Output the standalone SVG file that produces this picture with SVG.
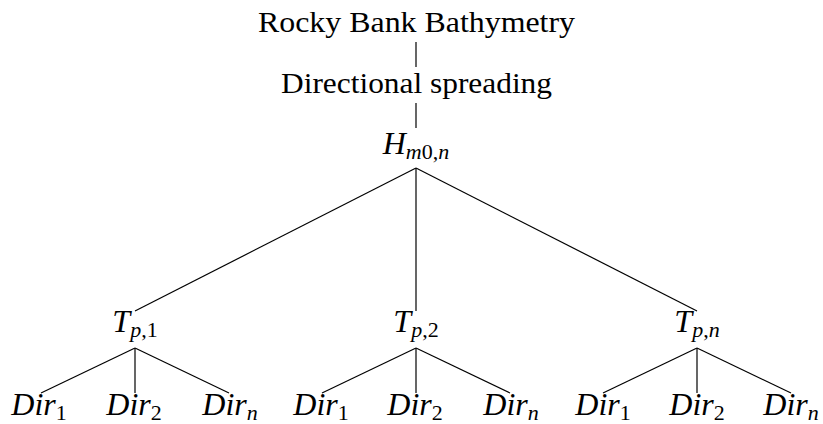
<svg xmlns="http://www.w3.org/2000/svg" width="823" height="424" viewBox="0 0 823 424">
<style>
text{font-family:"Liberation Serif","DejaVu Serif",serif;fill:#000;text-anchor:middle}
.t{font-size:29px}
.m{font-size:32px;font-style:italic}
.s{font-size:22px;font-style:normal}
.si{font-size:22px;font-style:italic}
.c line{stroke:#000;stroke-width:1.2}
</style>
<rect width="823" height="424" fill="#fff"/>
<g class="c" id="connectors">
<line x1="416" y1="42" x2="416" y2="67"/>
<line x1="416" y1="103" x2="416" y2="128"/>
<line x1="416" y1="168" x2="135" y2="311"/>
<line x1="416" y1="168" x2="416" y2="311"/>
<line x1="416" y1="168" x2="697" y2="311"/>
<line x1="135" y1="348" x2="41" y2="393"/>
<line x1="135" y1="348" x2="135" y2="393"/>
<line x1="135" y1="348" x2="229" y2="393"/>
<line x1="416" y1="348" x2="322" y2="393"/>
<line x1="416" y1="348" x2="416" y2="393"/>
<line x1="416" y1="348" x2="510" y2="393"/>
<line x1="697" y1="348" x2="603" y2="393"/>
<line x1="697" y1="348" x2="697" y2="393"/>
<line x1="697" y1="348" x2="791" y2="393"/>
</g>
<g id="rocky"><text class="t" x="416.5" y="32" textLength="317" lengthAdjust="spacingAndGlyphs">Rocky Bank Bathymetry</text></g>
<g id="spreading"><text class="t" x="416.5" y="93" textLength="271" lengthAdjust="spacingAndGlyphs">Directional spreading</text></g>
<g id="hm0n"><text class="m" x="416" y="154">H<tspan class="si" dy="5">m</tspan><tspan class="s">0,</tspan><tspan class="si">n</tspan></text></g>
<g id="tp1"><text class="m" x="135" y="332">T<tspan class="si" dy="5">p</tspan><tspan class="s">,1</tspan></text></g>
<g id="tp2"><text class="m" x="416" y="332">T<tspan class="si" dy="5">p</tspan><tspan class="s">,2</tspan></text></g>
<g id="tpn"><text class="m" x="697" y="332">T<tspan class="si" dy="5">p</tspan><tspan class="s">,</tspan><tspan class="si">n</tspan></text></g>
<g id="g1d1"><text class="m" x="39" y="415">Dir<tspan class="s" dy="5">1</tspan></text></g>
<g id="g1d2"><text class="m" x="134" y="415">Dir<tspan class="s" dy="5">2</tspan></text></g>
<g id="g1dn"><text class="m" x="230" y="415">Dir<tspan class="si" dy="5">n</tspan></text></g>
<g id="g2d1"><text class="m" x="321" y="415">Dir<tspan class="s" dy="5">1</tspan></text></g>
<g id="g2d2"><text class="m" x="415" y="415">Dir<tspan class="s" dy="5">2</tspan></text></g>
<g id="g2dn"><text class="m" x="511" y="415">Dir<tspan class="si" dy="5">n</tspan></text></g>
<g id="g3d1"><text class="m" x="603" y="415">Dir<tspan class="s" dy="5">1</tspan></text></g>
<g id="g3d2"><text class="m" x="697" y="415">Dir<tspan class="s" dy="5">2</tspan></text></g>
<g id="g3dn"><text class="m" x="791" y="415">Dir<tspan class="si" dy="5">n</tspan></text></g>
</svg>
